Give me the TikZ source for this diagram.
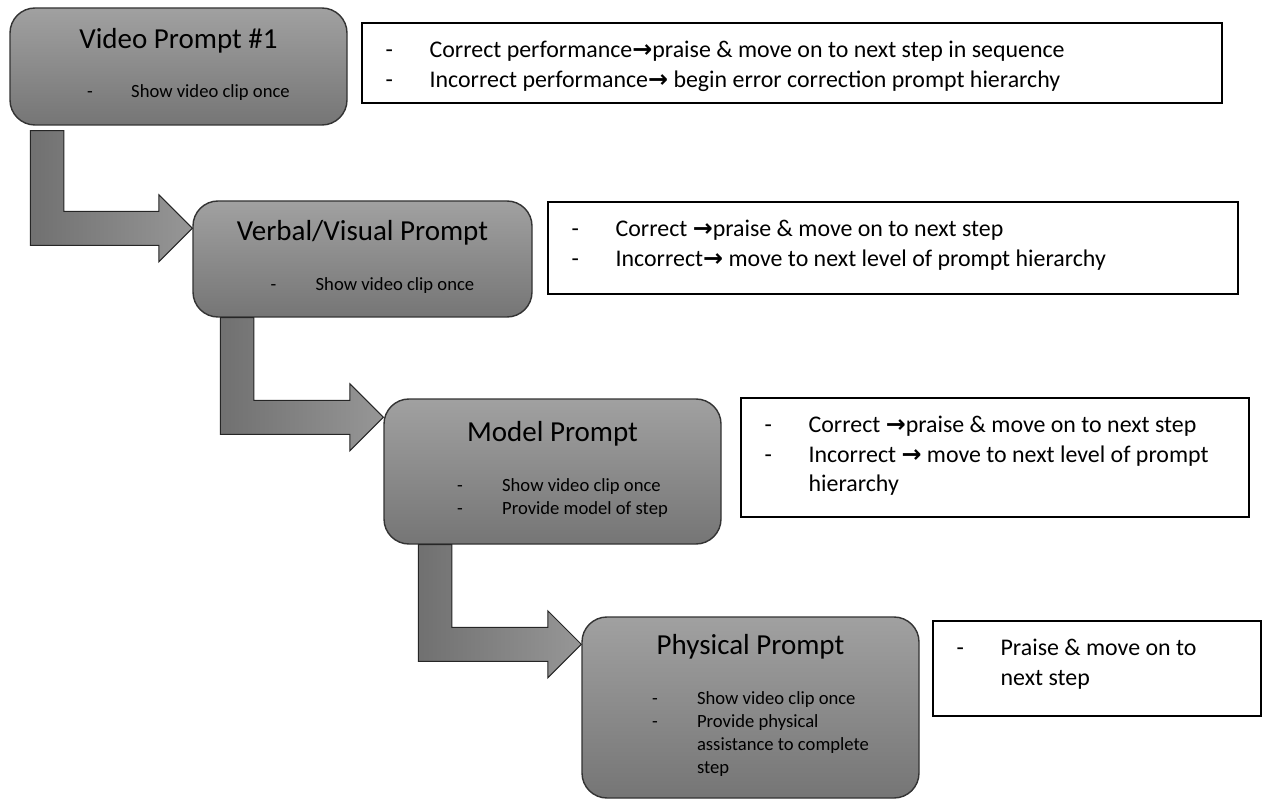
\documentclass[tikz,border=0pt]{standalone}
\usepackage{fontspec}
\setmainfont{Carlito}
\newfontfamily\arrowfont{DejaVu Sans}
\usepackage{tikz}
\usetikzlibrary{calc,positioning}
\newcommand{\goesto}{{\arrowfont\bfseries →}}
\newcommand{\boxtitle}[1]{{\fontsize{16.5}{20}\selectfont #1}}

\begin{document}
\begin{tikzpicture}[
    % GLOBAL CFG
    line join=miter,
    % Styles
    prompt/.style={% For the grey prompt boxes
        rectangle,
        rounded corners=5mm,
        draw=black!80,
        line width=.8pt,
        top color=black!37,
        bottom color=black!54,
        align=center,
        inner sep=0pt,
        minimum width=6.74cm,
        font=\fontsize{10.6}{13.1}\selectfont,
        },
    note/.style={% For the white boxes on the right
        rectangle,
        draw,
        line width=.8pt,
        fill=white,
        },
    notetext/.style={% Text inside the white boxes
        inner sep=0pt,
        font=\fontsize{13.6}{16.7}\selectfont,
        },
    bentarrow/.style={% Arrows from one prompt to the next
        draw=black!85,
        line width=.6pt,
        left color=black!56,
        right color=black!41,
        },
    ]
    \useasboundingbox (0,0) rectangle (25.26,-16);

%Start drawing the thing...
    % The prompt boxes
    \node[prompt, minimum height=2.34cm] (video) at (3.57,-1.33) {\boxtitle{Video Prompt \#1}\\[15pt]
        \begin{tabular}[t]{@{\hspace{0.4cm}}p{0.88cm}@{}l@{}} - & Show video clip once\end{tabular}};
    \node[prompt, minimum height=2.32cm, minimum width=6.78cm] (verbal) at (7.25,-5.18) {\boxtitle{Verbal/Visual Prompt}\\[15pt]
        \begin{tabular}[t]{@{\hspace{0.4cm}}p{0.9cm}@{}l@{}} - & Show video clip once\end{tabular}};
    \node[prompt, minimum height=2.9cm] (model) at (11.05,-9.43) {\boxtitle{Model Prompt}\\[15pt]
        \begin{tabular}[t]{@{\hspace{0.4cm}}p{0.9cm}@{}l@{}} - & Show video clip once\\ - & Provide model of step\end{tabular}};
    \node[prompt, minimum height=3.62cm] (physical) at (15.01,-14.15) {\boxtitle{Physical Prompt}\\[15pt]
        \begin{tabular}[t]{@{\hspace{0.4cm}}p{0.9cm}@{}l@{}} - & Show video clip once\\ - & Provide physical\\ & assistance to complete\\ & step\end{tabular}};

    % The white boxes with what to do
    \node[note, minimum width=17.2cm, minimum height=1.6cm] (videonote) at (15.84,-1.26) {};
    \node[notetext, below right=0.29cm and 0.48cm of videonote.north west] (videotext) {\begin{tabular}[t]{@{}p{0.88cm}@{}l@{}}
        - & Correct performance\goesto praise \& move on to next step in sequence\\
        - & Incorrect performance\goesto\ begin error correction prompt hierarchy
        \end{tabular}};

    \node[note, minimum width=13.8cm, minimum height=1.84cm] (verbalnote) at (17.86,-4.96) {};
    \node[notetext, below right=0.29cm and 0.48cm of verbalnote.north west] (verbaltext) {\begin{tabular}[t]{@{}p{0.88cm}@{}l@{}}
        - & Correct \goesto praise \& move on to next step\\
        - & Incorrect\goesto\ move to next level of prompt hierarchy
        \end{tabular}};

    \node[note, minimum width=10.16cm, minimum height=2.38cm] (modelnote) at (19.9,-9.15) {};
    \node[notetext, below right=0.29cm and 0.48cm of modelnote.north west] (modeltext) {\begin{tabular}[t]{@{}p{0.88cm}@{}l@{}}
        - & Correct \goesto praise \& move on to next step\\
        - & Incorrect \goesto\ move to next level of prompt\\
          & hierarchy
        \end{tabular}};

    \node[note, minimum width=6.56cm, minimum height=1.9cm] (physicalnote) at (21.94,-13.37) {};
    \node[notetext, below right=0.29cm and 0.48cm of physicalnote.north west] (physicaltext) {\begin{tabular}[t]{@{}p{0.88cm}@{}l@{}}
        - & Praise \& move on to\\
          & next step
        \end{tabular}};

    % Bent arrows down to the next prompt
    \coordinate (tip1) at ($(verbal.north west)+(0,-0.56)$);
    \coordinate (tip2) at ($(model.north west)+(0,-0.38)$);
    \coordinate (tip3) at ($(physical.north west)+(0,-0.56)$);
    \path[bentarrow] ($(video.south west)+(0.42,-0.1)$) coordinate (foot1) -- ++(0.67,0) |- ($(tip1)+(-0.67,0.34)$)
        -- ++(0,0.33) -- (tip1) -- ++(-0.67,-0.67) -- ++(0,0.33) -| (foot1) -- cycle;
    \path[bentarrow] ($(verbal.south west)+(0.56,0)$) coordinate (foot2) -- ++(0.67,0) |- ($(tip2)+(-0.67,0.34)$)
        -- ++(0,0.33) -- (tip2) -- ++(-0.67,-0.67) -- ++(0,0.33) -| (foot2) -- cycle;
    \path[bentarrow] ($(model.south west)+(0.70,0)$) coordinate (foot3) -- ++(0.67,0) |- ($(tip3)+(-0.67,0.34)$)
        -- ++(0,0.33) -- (tip3) -- ++(-0.67,-0.67) -- ++(0,0.33) -| (foot3) -- cycle;
\end{tikzpicture}
\end{document}
